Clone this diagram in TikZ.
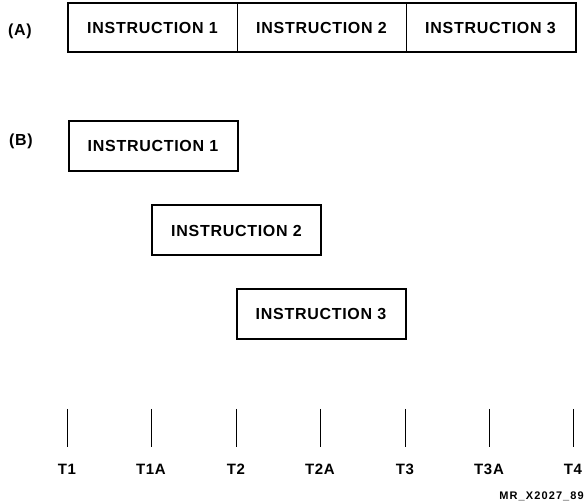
\documentclass[tikz,border=0pt]{standalone}
\usepackage{fontspec}
\setmainfont{Liberation Sans}[LetterSpace=4.5,BoldFont={Liberation Sans Bold}]
\newfontfamily\smallfont{Liberation Sans Bold}[LetterSpace=10]
\begin{document}
\begin{tikzpicture}[x=1pt,y=-1pt,
  lbl/.style={font=\fontsize{16}{18}\selectfont\bfseries, inner sep=0pt},
  cell/.style={lbl, draw, line width=1pt, minimum width=169pt, minimum height=48pt, anchor=center},
  ibox/.style={lbl, draw, line width=2pt, minimum width=169pt, minimum height=50pt, anchor=center},
  tick/.style={line width=0.9pt},
  tlbl/.style={font=\fontsize{15}{17}\selectfont\bfseries, inner sep=0pt, anchor=center}
]
\useasboundingbox (0,0) rectangle (584,502);
% (A) row
\node[lbl] (A) at (20,31) {(A)};
\node[cell] (a1) at (152.5,28) {INSTRUCTION 1};
\node[cell] (a2) at (321.5,28) {INSTRUCTION 2};
\node[cell] (a3) at (490.5,28) {INSTRUCTION 3};
\draw[line width=2pt] (a1.north west) rectangle (a3.south east);
% (B) staggered
\node[lbl] (B) at (21,141) {(B)};
\node[ibox] (b1) at (153,146) {INSTRUCTION 1};
\node[ibox] (b2) at (236.5,230.5) {INSTRUCTION 2};
\node[ibox] (b3) at (321,314.5) {INSTRUCTION 3};
% time ticks
\foreach \x/\n/\t in {67/t1/T1,151/t1a/T1A,236/t2/T2,320/t2a/T2A,405/t3/T3,489/t3a/T3A,573/t4/T4}{
  \coordinate (\n top) at (\x,409);
  \coordinate (\n bot) at (\x,447);
  \draw[tick] (\n top) -- (\n bot);
  \node[tlbl] (\n) at (\x,469) {\t};
}
\node[font=\smallfont\fontsize{11}{13}\selectfont, inner sep=0pt, anchor=east] (id) at (584,496) {MR\_X2027\_89};
\end{tikzpicture}
\end{document}
